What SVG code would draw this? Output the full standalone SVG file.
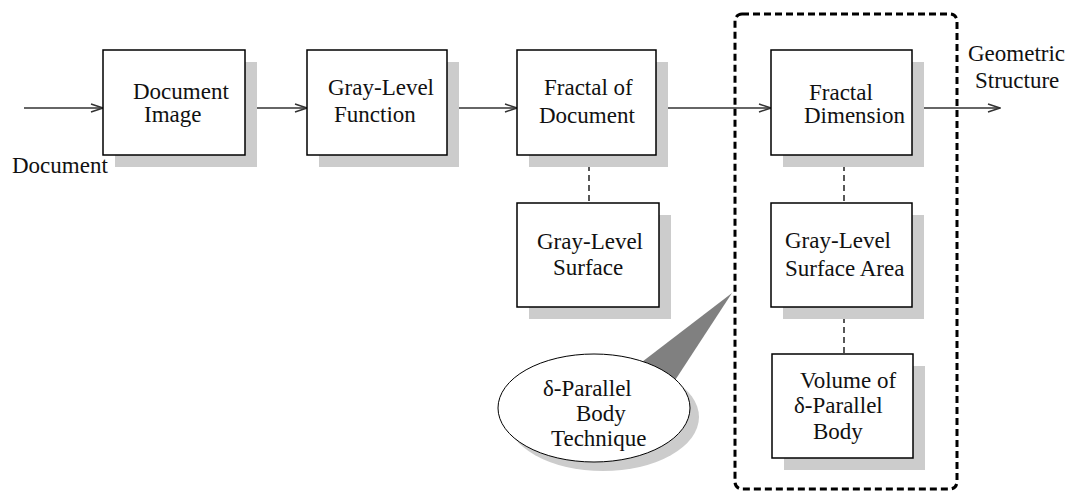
<svg xmlns="http://www.w3.org/2000/svg" width="1069" height="493" viewBox="0 0 1069 493">
<style>
.box{fill:#fff;stroke:#000;stroke-width:1.5}
.sh{fill:#cccccc;stroke:none}
.t{font-family:"Liberation Serif","Times New Roman",serif;font-size:23px;fill:#111}
.arr{stroke:#333;stroke-width:1.5;fill:none;marker-end:url(#ah)}
.dl{stroke:#222;stroke-width:1.5;fill:none;stroke-dasharray:6 4}
</style>
<defs>
<marker id="ah" markerUnits="userSpaceOnUse" markerWidth="14" markerHeight="10" refX="13" refY="5" orient="auto">
<path d="M1,1 L13,5 L1,9" fill="none" stroke="#333" stroke-width="1.5"/>
</marker>
</defs>
<rect x="0" y="0" width="1069" height="493" fill="#fff"/>

<g id="container">
<rect x="735" y="14" width="222" height="475" rx="7" fill="none" stroke="#000" stroke-width="3" stroke-dasharray="7 4"/>
</g>

<g id="connectors">
<line class="arr" x1="24" y1="108" x2="103" y2="108"/>
<line class="arr" x1="245" y1="108" x2="307" y2="108"/>
<line class="arr" x1="447" y1="108" x2="517" y2="108"/>
<line class="arr" x1="656" y1="108" x2="771" y2="108"/>
<line class="arr" x1="912" y1="108" x2="1000" y2="108"/>
<line class="dl" x1="589" y1="155" x2="589" y2="203"/>
<line class="dl" x1="844" y1="155" x2="844" y2="203"/>
<line class="dl" x1="844" y1="307" x2="844" y2="354"/>
</g>

<g id="n-document-label">
<text class="t" x="12" y="173">Document</text>
</g>

<g id="n-document-image">
<rect class="sh" x="115" y="62" width="142" height="105"/>
<rect class="box" x="103" y="50" width="142" height="105"/>
<text class="t" x="133" y="99">Document</text>
<text class="t" x="144" y="122">Image</text>
</g>

<g id="n-gray-level-function">
<rect class="sh" x="319" y="62" width="140" height="105"/>
<rect class="box" x="307" y="50" width="140" height="105"/>
<text class="t" x="328" y="95">Gray-Level</text>
<text class="t" x="334" y="122">Function</text>
</g>

<g id="n-fractal-of-document">
<rect class="sh" x="529" y="62" width="139" height="105"/>
<rect class="box" x="517" y="50" width="139" height="105"/>
<text class="t" x="544" y="95">Fractal of</text>
<text class="t" x="539" y="123">Document</text>
</g>

<g id="n-fractal-dimension">
<rect class="sh" x="783" y="62" width="141" height="105"/>
<rect class="box" x="771" y="50" width="141" height="105"/>
<text class="t" x="809" y="100">Fractal</text>
<text class="t" x="804" y="123">Dimension</text>
</g>

<g id="n-geometric-structure">
<text class="t" x="968" y="61">Geometric</text>
<text class="t" x="975" y="88">Structure</text>
</g>

<g id="n-gray-level-surface">
<rect class="sh" x="529" y="215" width="142" height="104"/>
<rect class="box" x="517" y="203" width="142" height="104"/>
<text class="t" x="537" y="249">Gray-Level</text>
<text class="t" x="553" y="275">Surface</text>
</g>

<g id="n-gray-level-surface-area">
<rect class="sh" x="783" y="215" width="141" height="104"/>
<rect class="box" x="771" y="203" width="141" height="104"/>
<text class="t" x="785" y="248">Gray-Level</text>
<text class="t" x="785" y="276">Surface Area</text>
</g>

<g id="n-volume">
<rect class="sh" x="784" y="366" width="141" height="104"/>
<rect class="box" x="772" y="354" width="141" height="104"/>
<text class="t" x="800" y="388">Volume of</text>
<text class="t" x="794" y="413">δ-Parallel</text>
<text class="t" x="813" y="439">Body</text>
</g>

<g id="n-callout">
<ellipse cx="603" cy="417" rx="96" ry="54" fill="#cccccc"/>
<polygon points="732,293 638,365 670,388" fill="#808080"/>
<ellipse cx="594" cy="408" rx="96" ry="54" fill="#fff" stroke="#000" stroke-width="1"/>
<text class="t" x="543" y="396">δ-Parallel</text>
<text class="t" x="576" y="421">Body</text>
<text class="t" x="551" y="446">Technique</text>
</g>
</svg>
